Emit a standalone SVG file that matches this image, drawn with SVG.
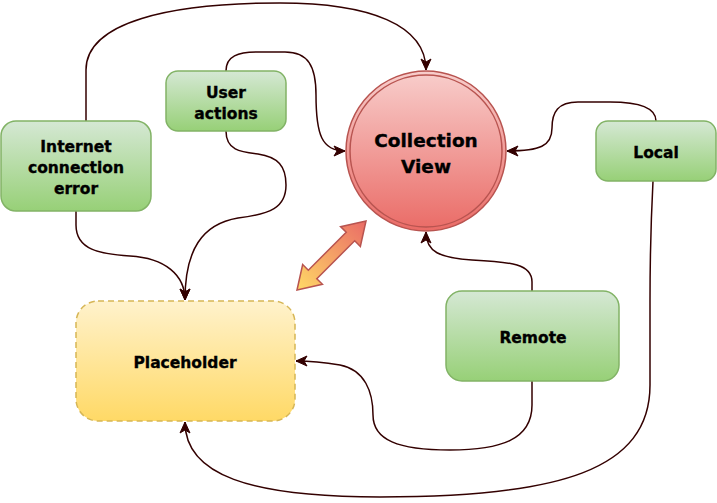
<svg xmlns="http://www.w3.org/2000/svg" width="717" height="503" viewBox="0 0 717 503">
<defs>
<linearGradient id="gGreen" x1="0" y1="0" x2="0" y2="1"><stop offset="0" stop-color="#d5e8d4"/><stop offset="1" stop-color="#97d077"/></linearGradient>
<linearGradient id="gRed" x1="0" y1="0" x2="0" y2="1"><stop offset="0" stop-color="#f8cecc"/><stop offset="1" stop-color="#ea6b66"/></linearGradient>
<linearGradient id="gYellow" x1="0" y1="0" x2="0" y2="1"><stop offset="0" stop-color="#fff2cc"/><stop offset="1" stop-color="#ffd966"/></linearGradient>
<linearGradient id="gArrow" x1="0" y1="0" x2="1" y2="0"><stop offset="0" stop-color="#ffd966"/><stop offset="1" stop-color="#ea6b66"/></linearGradient>
<marker id="arr" markerUnits="userSpaceOnUse" markerWidth="14" markerHeight="12" viewBox="0 0 14 12" refX="12" refY="6" orient="auto">
<path d="M1,1 L12,6 L1,11 L4,6 z" fill="#330000" stroke="#330000" stroke-width="1"/>
</marker>
<style>
.green{fill:url(#gGreen);stroke:#82b366;stroke-width:1.5}
.edge{fill:none;stroke:#330000;stroke-width:1.5;marker-end:url(#arr)}
text{font-family:"DejaVu Sans","Verdana",sans-serif;font-weight:bold;fill:#000;stroke:#000;stroke-width:0.35;text-anchor:middle}
.t{font-size:15.5px}
.big{font-size:18.5px}
</style>
</defs>
<rect width="717" height="503" fill="#ffffff"/>

<g id="connectors">
<path class="edge" d="M86,121 V70 C86,22 170,3 280,3 C370,3 426,25 426,70"/>
<path class="edge" d="M76,211 V225 C76,250 100,254 130,256 C165,258 185,275 185,300"/>
<path class="edge" d="M226,71 C226,56 238,52 258,52 L285,52 C308,52 316,66 316,95 C316,135 322,151 345,151"/>
<path class="edge" d="M226,131 C226,150 240,152 258,154 C278,157 286,166 286,185 C286,208 270,214 238,218 C202,224 185,250 185,300"/>
<path class="edge" d="M656,121 C656,108 640,102 610,102 L578,102 C558,102 552,112 552,128 C552,146 540,151 507,151"/>
<path class="edge" d="M653,181 C651,220 650,260 650,300 L650,385 C650,470 560,497 380,497 C250,497 185,475 185,422"/>
<path class="edge" d="M532,291 V282 C532,264 512,262 472,260 C440,258 426,252 426,232"/>
<path class="edge" d="M532,381 V405 C532,440 500,450 450,450 C398,450 373,440 373,415 C373,392 365,370 340,365 C322,362 312,361 296,361"/>
</g>

<g id="bidir">
<polygon transform="translate(297,290) rotate(-45)" points="0,0 22,-14 22,-6 75.6,-6 75.6,-14 97.6,0 75.6,14 75.6,6 22,6 22,14" fill="url(#gArrow)" stroke="#b85450" stroke-width="1.5" stroke-linejoin="miter"/>
</g>

<g id="internet">
<rect class="green" x="1" y="121" width="150" height="90" rx="15"/>
<text class="t" x="76" y="151.5">Internet</text>
<text class="t" x="76" y="172.5">connection</text>
<text class="t" x="76" y="193.5">error</text>
</g>

<g id="user-actions">
<rect class="green" x="166" y="71" width="120" height="60" rx="12"/>
<text class="t" x="226" y="97.5">User</text>
<text class="t" x="226" y="118.5">actions</text>
</g>

<g id="collection-view">
<circle cx="426" cy="151" r="80" fill="url(#gRed)" stroke="#b85450" stroke-width="1.5"/>
<circle cx="426" cy="151" r="76" fill="none" stroke="#b85450" stroke-width="1.5"/>
<text class="big" x="426" y="147">Collection</text>
<text class="big" x="426" y="173">View</text>
</g>

<g id="local">
<rect class="green" x="596" y="121" width="120" height="60" rx="12"/>
<text class="t" x="656" y="157.5">Local</text>
</g>

<g id="remote">
<rect class="green" x="446" y="291" width="173" height="90" rx="16"/>
<text class="t" x="533" y="342.5">Remote</text>
</g>

<g id="placeholder">
<rect x="76" y="301" width="219" height="120" rx="22" fill="url(#gYellow)" stroke="#d6b656" stroke-width="1.5" stroke-dasharray="6,4"/>
<text class="t" x="185" y="367.5">Placeholder</text>
</g>
</svg>
